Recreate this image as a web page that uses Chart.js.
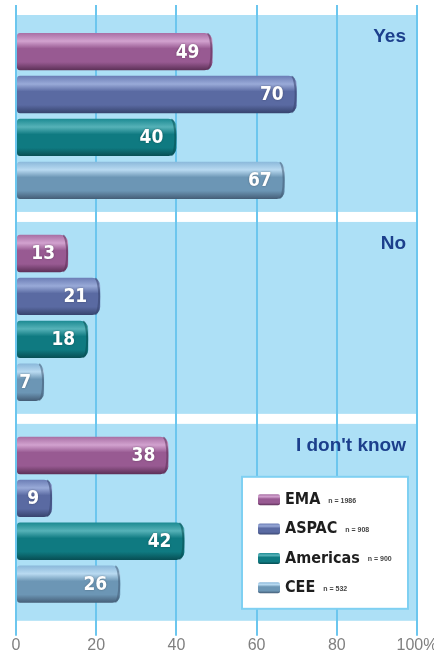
<!DOCTYPE html>
<html>
<head>
<meta charset="utf-8">
<script src="https://cdn.jsdelivr.net/npm/chart.js@4/dist/chart.umd.min.js"></script>
<style>
  body { margin: 0; background: #fff; }
  #wrap { width: 434px; height: 655px; }
</style>
</head>
<body>
<div id="wrap"><canvas id="answers" width="434" height="655"></canvas></div>
<script>
// Answer groups and regions
const categories = ['Yes', 'No', "I don't know"];
const regions = ['EMA', 'ASPAC', 'Americas', 'CEE'];
const sampleSizes = ['n = 1986', 'n = 908', 'n = 900', 'n = 532'];

// Percentages per region, in order Yes / No / I don't know
const emaValues = [49, 13, 38];
const aspacValues = [70, 21, 9];
const americasValues = [40, 18, 42];
const ceeValues = [67, 7, 26];

// x axis ticks
const tickValues = [0, 20, 40, 60, 80, 100];
const tickLabels = ['0', '20', '40', '60', '80', '100%'];

// light, highlight, main, dark for each region (cylinder look)
const palettes = [
  ['#a86fa4', '#d2a2cf', '#985a92', '#5c3057'],
  ['#6b7db5', '#99aad8', '#5a6aa2', '#36436d'],
  ['#1c8a92', '#56b2b8', '#0f7a81', '#074e54'],
  ['#8ab8da', '#b9daf1', '#6c96b5', '#445d76']
];

const gridBlue = '#6cc6ee';

function cylinder(c, top, bottom, pal) {
  const g = c.createLinearGradient(0, top, 0, bottom);
  g.addColorStop(0, pal[0]);
  g.addColorStop(0.22, pal[1]);
  g.addColorStop(0.42, pal[2]);
  g.addColorStop(0.78, pal[2]);
  g.addColorStop(1, pal[3]);
  return g;
}

function barFill(ctx) {
  const pal = palettes[ctx.datasetIndex];
  if (ctx.dataIndex === undefined) return pal[2];
  const el = ctx.chart.getDatasetMeta(ctx.datasetIndex).data[ctx.dataIndex];
  if (!el || el.y == null || !el.height) return pal[2];
  return cylinder(ctx.chart.ctx, el.y - el.height / 2, el.y + el.height / 2, pal);
}

// background, white bands between groups, little tick marks above the plot
const backdrop = {
  id: 'backdrop',
  beforeDraw(chart) {
    const { ctx, chartArea: a, scales } = chart;
    ctx.save();
    ctx.fillStyle = '#ade0f6';
    ctx.fillRect(a.left, a.top, a.right - a.left, a.bottom - a.top);
    const y = scales.y;
    ctx.fillStyle = '#ffffff';
    for (let i = 1; i < categories.length; i++) {
      const edge = (y.getPixelForValue(i - 1) + y.getPixelForValue(i)) / 2;
      ctx.fillRect(a.left, edge - 5, a.right - a.left, 10);
    }
    ctx.strokeStyle = gridBlue;
    ctx.lineWidth = 2;
    tickValues.forEach(v => {
      const px = Math.round(scales.x.getPixelForValue(v));
      ctx.beginPath();
      ctx.moveTo(px, a.top - 10);
      ctx.lineTo(px, a.top);
      ctx.stroke();
    });
    ctx.restore();
  },
  afterDatasetsDraw(chart) {
    const { ctx, chartArea: a, scales } = chart;
    ctx.save();
    // darker rim at the round end of each bar
    chart.data.datasets.forEach((ds, di) => {
      ctx.strokeStyle = palettes[di][3];
      ctx.globalAlpha = 0.55;
      ctx.lineWidth = 2;
      chart.getDatasetMeta(di).data.forEach(el => {
        const h = el.height / 2;
        ctx.beginPath();
        ctx.ellipse(el.x - 5, el.y, 4, h - 1, 0, -Math.PI / 2, Math.PI / 2);
        ctx.stroke();
      });
    });
    ctx.globalAlpha = 1;
    // value labels inside bar ends
    ctx.font = 'bold 19px "Liberation Sans Narrow", "DejaVu Sans Condensed", Arial, sans-serif';
    ctx.textAlign = 'right';
    ctx.textBaseline = 'middle';
    ctx.fillStyle = '#ffffff';
    ctx.shadowColor = 'rgba(0,0,0,0.35)';
    ctx.shadowBlur = 2;
    chart.data.datasets.forEach((ds, di) => {
      chart.getDatasetMeta(di).data.forEach((el, i) => {
        ctx.fillText(String(ds.data[i]), el.x - 13, el.y + 1);
      });
    });
    ctx.shadowBlur = 0;
    ctx.shadowColor = 'transparent';
    // group names, top right of every group
    ctx.font = 'bold 19px "Liberation Sans", Arial, sans-serif';
    ctx.fillStyle = '#1c3f8c';
    ctx.textBaseline = 'top';
    const y = scales.y;
    categories.forEach((name, i) => {
      const top = i === 0 ? a.top : (y.getPixelForValue(i - 1) + y.getPixelForValue(i)) / 2 + 5;
      ctx.fillText(name, a.right - 11, top + 12);
    });
    ctx.restore();
  },
  afterDraw(chart) {
    const { ctx, chartArea: a } = chart;
    const bw = 166, bh = 132;
    const bx = a.right - 9 - bw, by = a.bottom - 12 - bh;
    ctx.save();
    ctx.fillStyle = '#ffffff';
    ctx.fillRect(bx, by, bw, bh);
    ctx.strokeStyle = '#7fd0f2';
    ctx.lineWidth = 2;
    ctx.strokeRect(bx, by, bw, bh);
    regions.forEach((name, i) => {
      const cy = by + 23 + i * 29.3;
      const sw = 22, sh = 11;
      ctx.fillStyle = cylinder(ctx, cy - sh / 2, cy + sh / 2, palettes[i]);
      ctx.beginPath();
      ctx.roundRect(bx + 16, cy - sh / 2, sw, sh, 2);
      ctx.fill();
      ctx.fillStyle = '#1e1e1e';
      ctx.textBaseline = 'middle';
      ctx.textAlign = 'left';
      ctx.font = 'bold 16px "Liberation Sans Narrow", "DejaVu Sans Condensed", Arial, sans-serif';
      ctx.fillText(name, bx + 43, cy);
      const w = ctx.measureText(name).width;
      ctx.font = 'bold 7px "Liberation Sans Narrow", Arial, sans-serif';
      ctx.fillStyle = '#444444';
      ctx.fillText(sampleSizes[i], bx + 43 + w + 8, cy + 1);
    });
    ctx.restore();
  }
};

const makeSet = (label, values) => ({
  label: label,
  data: values,
  backgroundColor: barFill,
  borderWidth: 0,
  borderSkipped: false,
  borderRadius: { topLeft: 3, bottomLeft: 3, topRight: 8, bottomRight: 8 },
  categoryPercentage: 0.85,
  barPercentage: 0.87
});

const chart = new Chart(document.getElementById('answers'), {
  type: 'bar',
  data: {
    labels: categories,
    datasets: [
      makeSet(regions[0], emaValues),
      makeSet(regions[1], aspacValues),
      makeSet(regions[2], americasValues),
      makeSet(regions[3], ceeValues)
    ]
  },
  options: {
    indexAxis: 'y',
    responsive: false,
    animation: false,
    layout: { autoPadding: false, padding: { left: 16, right: 17, top: 15, bottom: 0 } },
    plugins: { legend: { display: false }, tooltip: { enabled: false } },
    scales: {
      x: {
        min: 0,
        max: 100,
        afterBuildTicks: axis => { axis.ticks = tickValues.map(v => ({ value: v })); },
        afterFit: axis => { axis.paddingLeft = 0; axis.paddingRight = 0; },
        ticks: {
          callback: (v, i) => tickLabels[i],
          color: '#808080',
          font: { family: '"Liberation Sans", Arial, sans-serif', size: 16 },
          padding: 0,
          maxRotation: 0,
          autoSkip: false
        },
        grid: { color: gridBlue, lineWidth: 2, tickLength: 15 },
        border: { display: false }
      },
      y: { display: false }
    }
  },
  plugins: [backdrop]
});
// second pass so the gradients know where each bar sits
chart.update('none');
</script>
</body>
</html>
